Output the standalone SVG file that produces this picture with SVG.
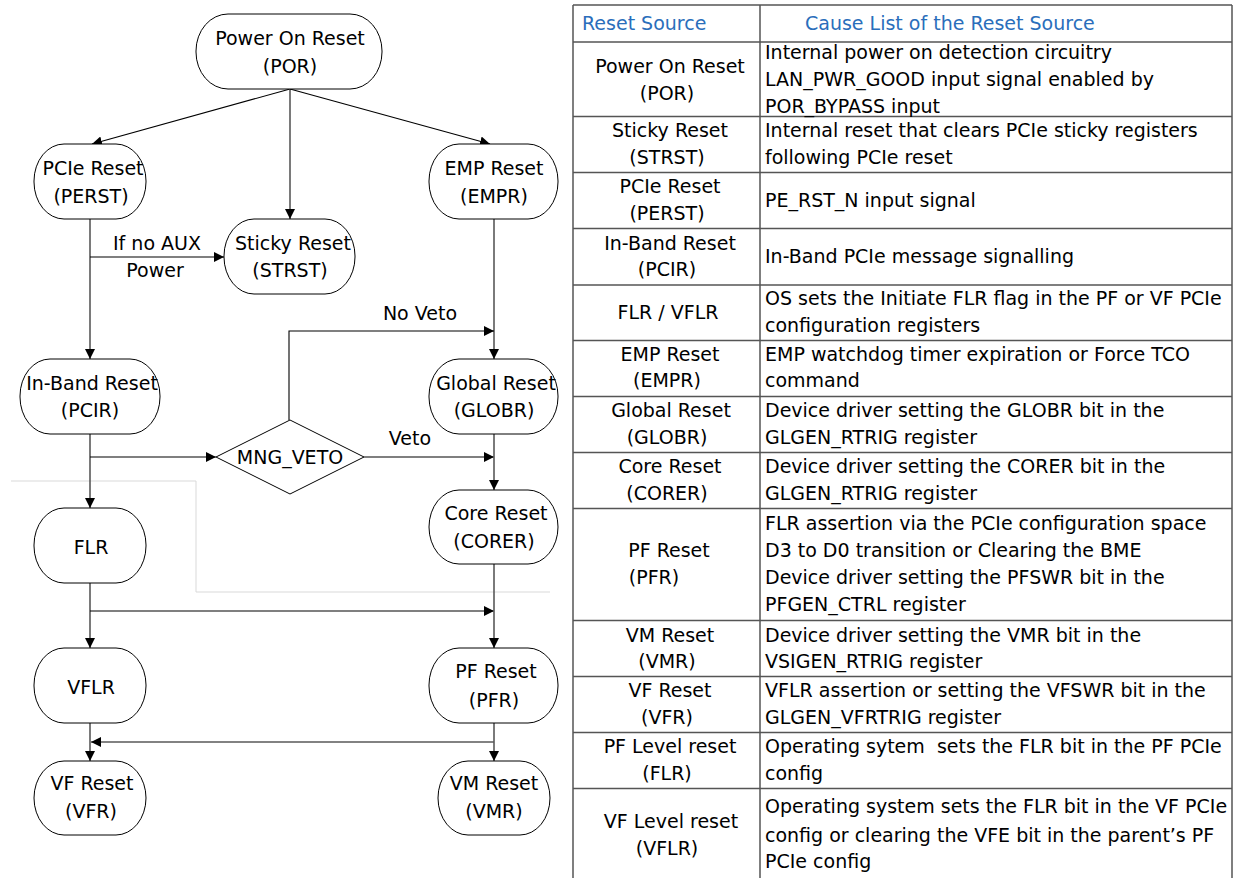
<svg xmlns="http://www.w3.org/2000/svg" width="1241" height="878" viewBox="0 0 1241 878">
<style>
text{font-family:"DejaVu Sans",Verdana,sans-serif;font-size:19px;fill:#000}
.c{text-anchor:middle}
.h{fill:#2a6ebb}
.node{fill:#fff;stroke:#000;stroke-width:1}
.tr{stroke:#595959;stroke-width:1.6;fill:none}
.bl{stroke:#000;stroke-width:1.1;fill:none}
.grid{stroke:#555;stroke-width:1.5;fill:none}
.faint{stroke:#d9d9d9;stroke-width:1;fill:none}
</style>
<defs>
<marker id="ah" viewBox="0 0 10 10" refX="10" refY="5" markerWidth="10" markerHeight="10" markerUnits="userSpaceOnUse" orient="auto">
<path d="M0,0 L10,5 L0,10 z" fill="#000"/>
</marker>
</defs>

<polyline class="faint" points="11,481 196,481 196,592 550,592"/>

<g id="connectors">
<line class="bl" x1="290" y1="89" x2="92" y2="144" marker-end="url(#ah)"/>
<line class="tr" x1="290" y1="89" x2="290" y2="219" marker-end="url(#ah)"/>
<line class="bl" x1="290" y1="89" x2="490" y2="144" marker-end="url(#ah)"/>
<line class="tr" x1="90" y1="219" x2="90" y2="359" marker-end="url(#ah)"/>
<line class="bl" x1="90" y1="257" x2="224" y2="257" marker-end="url(#ah)"/>
<line class="tr" x1="494" y1="219" x2="494" y2="359" marker-end="url(#ah)"/>
<polyline class="bl" points="289,420 289,331 494,331" marker-end="url(#ah)"/>
<line class="tr" x1="90" y1="434" x2="90" y2="508" marker-end="url(#ah)"/>
<line class="bl" x1="90" y1="457" x2="216" y2="457" marker-end="url(#ah)"/>
<line class="bl" x1="364" y1="457" x2="494" y2="457" marker-end="url(#ah)"/>
<line class="tr" x1="494" y1="434" x2="494" y2="490" marker-end="url(#ah)"/>
<line class="tr" x1="90" y1="583" x2="90" y2="648" marker-end="url(#ah)"/>
<line class="bl" x1="90" y1="611" x2="494" y2="611" marker-end="url(#ah)"/>
<line class="tr" x1="494" y1="564" x2="494" y2="648" marker-end="url(#ah)"/>
<line class="tr" x1="494" y1="742" x2="91" y2="742" marker-end="url(#ah)"/>
<line class="tr" x1="90" y1="723" x2="90" y2="761" marker-end="url(#ah)"/>
<line class="tr" x1="494" y1="723" x2="494" y2="761" marker-end="url(#ah)"/>
<text class="c" x="157" y="250">If no AUX</text>
<text class="c" x="155" y="277">Power</text>
<text class="c" x="420" y="320">No Veto</text>
<text class="c" x="410" y="445">Veto</text>
</g>

<g id="por"><rect class="node" x="196" y="14" width="186" height="75" rx="32" ry="37"/>
<text class="c" x="290" y="45">Power On Reset</text><text class="c" x="290" y="73">(POR)</text></g>
<g id="perst"><rect class="node" x="34" y="144" width="112" height="75" rx="30" ry="37"/>
<text class="c" x="93" y="175">PCIe Reset</text><text class="c" x="91" y="203">(PERST)</text></g>
<g id="empr"><rect class="node" x="429" y="144" width="129" height="75" rx="30" ry="37"/>
<text class="c" x="494" y="175">EMP Reset</text><text class="c" x="494" y="203">(EMPR)</text></g>
<g id="strst"><rect class="node" x="224" y="219" width="131" height="75" rx="30" ry="37"/>
<text class="c" x="293" y="250">Sticky Reset</text><text class="c" x="290" y="277">(STRST)</text></g>
<g id="pcir"><rect class="node" x="20" y="359" width="140" height="75" rx="30" ry="37"/>
<text class="c" x="92" y="390">In-Band Reset</text><text class="c" x="90" y="417">(PCIR)</text></g>
<g id="globr"><rect class="node" x="429" y="359" width="129" height="75" rx="30" ry="37"/>
<text class="c" x="496" y="390">Global Reset</text><text class="c" x="494" y="417">(GLOBR)</text></g>
<g id="mng_veto"><polygon class="node" points="216,457 290,420 364,457 290,494"/>
<text class="c" x="290" y="464">MNG_VETO</text></g>
<g id="corer"><rect class="node" x="429" y="490" width="129" height="74" rx="30" ry="37"/>
<text class="c" x="496" y="520">Core Reset</text><text class="c" x="494" y="548">(CORER)</text></g>
<g id="flr"><rect class="node" x="34" y="508" width="112" height="75" rx="30" ry="37"/>
<text class="c" x="91" y="554">FLR</text></g>
<g id="vflr"><rect class="node" x="34" y="648" width="112" height="75" rx="30" ry="37"/>
<text class="c" x="91" y="694">VFLR</text></g>
<g id="pfr"><rect class="node" x="429" y="648" width="129" height="75" rx="30" ry="37"/>
<text class="c" x="496" y="678">PF Reset</text><text class="c" x="494" y="707">(PFR)</text></g>
<g id="vfr"><rect class="node" x="34" y="761" width="112" height="74" rx="30" ry="37"/>
<text class="c" x="92" y="790">VF Reset</text><text class="c" x="91" y="818">(VFR)</text></g>
<g id="vmr"><rect class="node" x="438" y="761" width="112" height="74" rx="30" ry="37"/>
<text class="c" x="494" y="790">VM Reset</text><text class="c" x="494" y="818">(VMR)</text></g>

<g id="table">
<path class="grid" d="M573,5 H1232 M573,5 V878 M760,5 V878 M1232,5 V878 M573,42 H1232 M573,116.5 H1232 M573,172.5 H1232 M573,228.5 H1232 M573,285 H1232 M573,340.5 H1232 M573,396.5 H1232 M573,452.5 H1232 M573,508.5 H1232 M573,620.5 H1232 M573,676.5 H1232 M573,732.5 H1232 M573,788.5 H1232"/>
<text class="h" x="582" y="30">Reset Source</text>
<text class="h" x="805" y="30">Cause List of the Reset Source</text>

<text class="c" x="670" y="73">Power On Reset</text><text class="c" x="667" y="100">(POR)</text>
<text x="765" y="59">Internal power on detection circuitry</text>
<text x="765" y="86">LAN_PWR_GOOD input signal enabled by</text>
<text x="765" y="113">POR_BYPASS input</text>

<text class="c" x="670" y="137">Sticky Reset</text><text class="c" x="667" y="164">(STRST)</text>
<text x="765" y="137">Internal reset that clears PCIe sticky registers</text>
<text x="765" y="164">following PCIe reset</text>

<text class="c" x="670" y="193">PCIe Reset</text><text class="c" x="667" y="220">(PERST)</text>
<text x="765" y="207">PE_RST_N input signal</text>

<text class="c" x="670" y="250">In-Band Reset</text><text class="c" x="667" y="276">(PCIR)</text>
<text x="765" y="263">In-Band PCIe message signalling</text>

<text class="c" x="668" y="319">FLR / VFLR</text>
<text x="765" y="305">OS sets the Initiate FLR flag in the PF or VF PCIe</text>
<text x="765" y="332">configuration registers</text>

<text class="c" x="670" y="361">EMP Reset</text><text class="c" x="667" y="387">(EMPR)</text>
<text x="765" y="361">EMP watchdog timer expiration or Force TCO</text>
<text x="765" y="387">command</text>

<text class="c" x="671" y="417">Global Reset</text><text class="c" x="667" y="444">(GLOBR)</text>
<text x="765" y="417">Device driver setting the GLOBR bit in the</text>
<text x="765" y="444">GLGEN_RTRIG register</text>

<text class="c" x="670" y="473">Core Reset</text><text class="c" x="667" y="500">(CORER)</text>
<text x="765" y="473">Device driver setting the CORER bit in the</text>
<text x="765" y="500">GLGEN_RTRIG register</text>

<text class="c" x="669" y="557">PF Reset</text><text class="c" x="654" y="584">(PFR)</text>
<text x="765" y="530">FLR assertion via the PCIe configuration space</text>
<text x="765" y="557">D3 to D0 transition or Clearing the BME</text>
<text x="765" y="584">Device driver setting the PFSWR bit in the</text>
<text x="765" y="611">PFGEN_CTRL register</text>

<text class="c" x="670" y="642">VM Reset</text><text class="c" x="667" y="668">(VMR)</text>
<text x="765" y="642">Device driver setting the VMR bit in the</text>
<text x="765" y="668">VSIGEN_RTRIG register</text>

<text class="c" x="670" y="697">VF Reset</text><text class="c" x="667" y="724">(VFR)</text>
<text x="765" y="697">VFLR assertion or setting the VFSWR bit in the</text>
<text x="765" y="724">GLGEN_VFRTRIG register</text>

<text class="c" x="670" y="753">PF Level reset</text><text class="c" x="667" y="780">(FLR)</text>
<text x="765" y="753" style="white-space:pre">Operating sytem  sets the FLR bit in the PF PCIe</text>
<text x="765" y="780">config</text>

<text class="c" x="671" y="828">VF Level reset</text><text class="c" x="667" y="855">(VFLR)</text>
<text x="765" y="813">Operating system sets the FLR bit in the VF PCIe</text>
<text x="765" y="842">config or clearing the VFE bit in the parent’s PF</text>
<text x="765" y="868">PCIe config</text>
</g>
</svg>
